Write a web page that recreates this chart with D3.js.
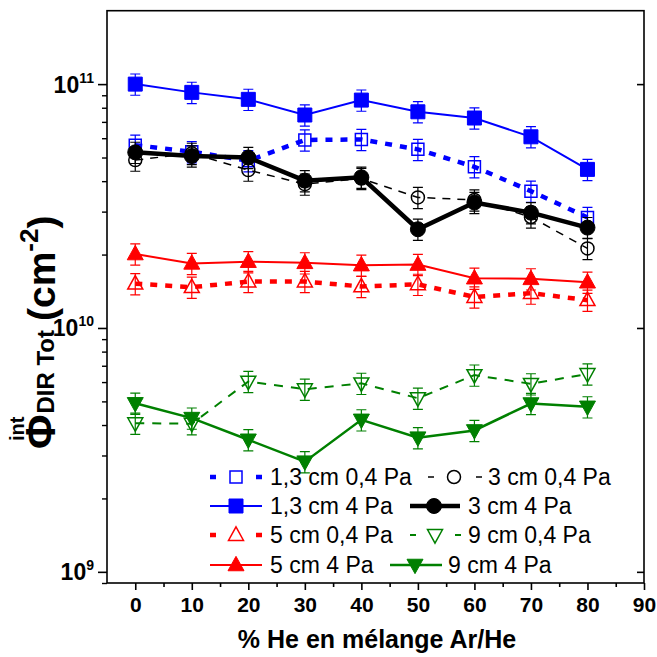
<!DOCTYPE html>
<html><head><meta charset="utf-8">
<script src="https://cdn.jsdelivr.net/npm/d3@7"></script>
<style>body{margin:0;background:#fff}svg{display:block}text{font-family:"Liberation Sans",Arial,sans-serif}</style>
</head><body><svg id="c" width="657" height="657"></svg>
<script>
const xValues = [0,10,20,30,40,50,60,70,80];
const xTicks = [0,10,20,30,40,50,60,70,80,90];
const yTicks = [1e9,1e10,1e11];
const s13_04 = [5.62e10,5.28e10,4.85e10,5.90e10,5.93e10,5.40e10,4.58e10,3.64e10,2.84e10];
const s3_04  = [4.88e10,5.20e10,4.44e10,3.89e10,4.10e10,3.43e10,3.35e10,2.85e10,2.12e10];
const s13_4  = [1.00e11,9.25e10,8.66e10,7.47e10,8.60e10,7.70e10,7.26e10,6.08e10,4.47e10];
const s3_4   = [5.25e10,5.07e10,5.00e10,4.02e10,4.15e10,2.54e10,3.27e10,2.97e10,2.58e10];
const s5_04  = [1.52e10,1.47e10,1.55e10,1.55e10,1.48e10,1.51e10,1.34e10,1.39e10,1.30e10];
const s9_04  = [4.07e9,4.05e9,6.03e9,5.61e9,5.93e9,5.15e9,6.41e9,5.90e9,6.48e9];
const s5_4   = [2.01e10,1.84e10,1.87e10,1.85e10,1.81e10,1.82e10,1.60e10,1.59e10,1.54e10];
const s9_4   = [4.91e9,4.27e9,3.48e9,2.83e9,4.20e9,3.55e9,3.80e9,4.90e9,4.75e9];
const errFrac = 0.10;
const labels = ["1,3 cm 0,4 Pa","3 cm 0,4 Pa","1,3 cm 4 Pa","3 cm 4 Pa","5 cm 0,4 Pa","9 cm 0,4 Pa","5 cm 4 Pa","9 cm 4 Pa"];

const series = [
 {name:labels[0], v:s13_04, color:"#0000ff", sym:"square", fill:false, w:4.5, dash:"7,8", size:12},
 {name:labels[1], v:s3_04, color:"#000000", sym:"circle", fill:false, w:1.5, dash:"8,7", size:13},
 {name:labels[2], v:s13_4, color:"#0000ff", sym:"square", fill:true, w:2, dash:null, size:14},
 {name:labels[3], v:s3_4, color:"#000000", sym:"circle", fill:true, w:4.5, dash:null, size:15},
 {name:labels[4], v:s5_04, color:"#ff0000", sym:"triangle", fill:false, w:4.5, dash:"7,8", size:15},
 {name:labels[5], v:s9_04, color:"#008000", sym:"down", fill:false, w:2, dash:"9,8", size:15},
 {name:labels[6], v:s5_4, color:"#ff0000", sym:"triangle", fill:true, w:2, dash:null, size:16},
 {name:labels[7], v:s9_4, color:"#008000", sym:"down", fill:true, w:2.5, dash:null, size:16}
];

const svg = d3.select("#c");
const L=107, R=644, T=10.7, B=583;
const x = d3.scaleLinear().domain([-5,90]).range([L,R]);
const y = d3.scaleLog().domain([9e8,2e11]).range([B,T]);

function symPath(sym,size){
  if(sym==="square"){const h=size/2;return `M${-h},${-h}H${h}V${h}H${-h}Z`;}
  if(sym==="circle"){const r=size/2;return `M${r},0A${r},${r} 0 1,1 ${-r},0A${r},${r} 0 1,1 ${r},0Z`;}
  const h=size*0.9, b=size/2;
  if(sym==="triangle") return `M0,${-h*0.6}L${b},${h*0.4}L${-b},${h*0.4}Z`;
  return `M0,${h*0.6}L${b},${-h*0.4}L${-b},${-h*0.4}Z`;
}

// frame
svg.append("rect").attr("x",L).attr("y",T).attr("width",R-L).attr("height",B-T)
  .attr("fill","none").attr("stroke","#000").attr("stroke-width",1.6);

// x axis
const gx = svg.append("g").attr("transform",`translate(0,${B})`)
  .call(d3.axisBottom(x).tickValues(xTicks).tickSize(7).tickPadding(7).tickFormat(d3.format("d")));
gx.select(".domain").remove();
gx.selectAll("line").attr("stroke-width",1.6);
gx.selectAll("text").attr("font-size",21).attr("font-weight","bold").attr("fill","#000");
const xMinor = d3.range(5,90,10);
svg.append("g").attr("transform",`translate(0,${B})`)
  .call(d3.axisBottom(x).tickValues(xMinor).tickSize(4).tickFormat(""))
  .call(g=>{g.select(".domain").remove();g.selectAll("line").attr("stroke-width",1.6);});

// y axis
const gy = svg.append("g").attr("transform",`translate(${L},0)`)
  .call(d3.axisLeft(y).tickValues(yTicks).tickSize(9).tickFormat(""));
gy.select(".domain").remove();
gy.selectAll("line").attr("stroke-width",1.6);
const yMinor = [];
[1e8,1e9,1e10].forEach(d=>{for(let k=2;k<=9;k++){const v=d*k; if(v>=9e8&&v<=2e11) yMinor.push(v);}});
svg.append("g").attr("transform",`translate(${L},0)`)
  .call(d3.axisLeft(y).tickValues(yMinor).tickSize(5).tickFormat(""))
  .call(g=>{g.select(".domain").remove();g.selectAll("line").attr("stroke-width",1.4);});
// right axis inward ticks
svg.append("g").attr("transform",`translate(${R},0)`)
  .call(d3.axisRight(y).tickValues(yTicks).tickSize(-7).tickFormat(""))
  .call(g=>{g.select(".domain").remove();g.selectAll("line").attr("stroke-width",1.6);});

// y tick labels with exponents
yTicks.forEach(v=>{
  const t = svg.append("text").attr("x",94).attr("y",y(v)+8.5).attr("text-anchor","end")
    .attr("font-weight","bold").attr("fill","#000");
  t.append("tspan").attr("font-size",23).text("10");
  t.append("tspan").attr("font-size",14).attr("dy",-10).text(String(Math.round(Math.log10(v))));
});

// x title
svg.append("text").attr("x",377).attr("y",648).attr("text-anchor","middle")
  .attr("font-size",25).attr("font-weight","bold").text("% He en mélange Ar/He");

// y title
const yt = svg.append("g").attr("transform","translate(55,449) rotate(-90)");
const phi = yt.append("text").attr("x",0).attr("y",0).attr("font-size",42).attr("font-weight","bold").text("Φ");
const pw = phi.node().getComputedTextLength();
yt.append("text").attr("x",8).attr("y",-31).attr("font-size",20).attr("font-weight","bold").text("int");
const sub = yt.append("text").attr("x",pw+1).attr("y",-1).attr("font-size",24).attr("font-weight","bold").text("DIR Tot");
const sw = sub.node().getComputedTextLength();
const cm = yt.append("text").attr("x",pw+sw+10).attr("y",0).attr("font-size",39).attr("font-weight","bold");
cm.append("tspan").text("(cm");
cm.append("tspan").attr("font-size",26).attr("dy",-17).text("-2");
cm.append("tspan").attr("dy",17).text(")");

// plot series
const plot = svg.append("g");
series.forEach(s=>{
  const g = plot.append("g");
  const line = d3.line().x((d,i)=>x(xValues[i])).y(d=>y(d));
  g.append("path").attr("d",line(s.v)).attr("fill","none").attr("stroke",s.color)
    .attr("stroke-width",s.w).attr("stroke-dasharray",s.dash);
  s.v.forEach((v,i)=>{
    const cx=x(xValues[i]), y1=y(v*(1+errFrac)), y2=y(v*(1-errFrac));
    g.append("path").attr("d",`M${cx},${y1}V${y2}M${cx-5},${y1}H${cx+5}M${cx-5},${y2}H${cx+5}`)
      .attr("stroke",s.color).attr("stroke-width",1.2).attr("fill","none");
  });
  g.selectAll(".m").data(s.v).enter().append("path")
    .attr("transform",(d,i)=>`translate(${x(xValues[i])},${y(d)})`)
    .attr("d",symPath(s.sym,s.size))
    .attr("fill",s.fill?s.color:"#fff").attr("fill-opacity",s.fill?1:0)
    .attr("stroke",s.color).attr("stroke-width",s.fill?1:1.5);
});

// legend
const leg = [
 {s:0, x1:210, x2:262, mx:236, tx:270, row:0},
 {s:1, x1:428, x2:482, mx:454, tx:488, row:0},
 {s:2, x1:210, x2:262, mx:236, tx:270, row:1},
 {s:3, x1:410, x2:460, mx:434, tx:468, row:1},
 {s:4, x1:210, x2:262, mx:236, tx:270, row:2},
 {s:5, x1:410, x2:461, mx:435, tx:468, row:2},
 {s:6, x1:210, x2:262, mx:236, tx:270, row:3},
 {s:7, x1:390, x2:442, mx:415, tx:448, row:3}
];
const rowY = [477,506,535,565];
const lg = svg.append("g");
leg.forEach(l=>{
  const s = series[l.s], yy = rowY[l.row];
  if(s.dash){
    lg.append("line").attr("x1",l.x1).attr("x2",l.x1+6).attr("y1",yy).attr("y2",yy).attr("stroke",s.color).attr("stroke-width",s.w);
    lg.append("line").attr("x1",l.x2-6).attr("x2",l.x2).attr("y1",yy).attr("y2",yy).attr("stroke",s.color).attr("stroke-width",s.w);
  } else {
    lg.append("line").attr("x1",l.x1).attr("x2",l.x2).attr("y1",yy).attr("y2",yy).attr("stroke",s.color).attr("stroke-width",s.w);
  }
  lg.append("path").attr("transform",`translate(${l.mx},${yy})`).attr("d",symPath(s.sym,s.size))
    .attr("fill",s.fill?s.color:"#fff").attr("stroke",s.color).attr("stroke-width",s.fill?1:1.5);
  lg.append("text").attr("x",l.tx).attr("y",yy+8.2).attr("font-size",23).attr("fill","#000").text(s.name);
});
</script></body></html>
